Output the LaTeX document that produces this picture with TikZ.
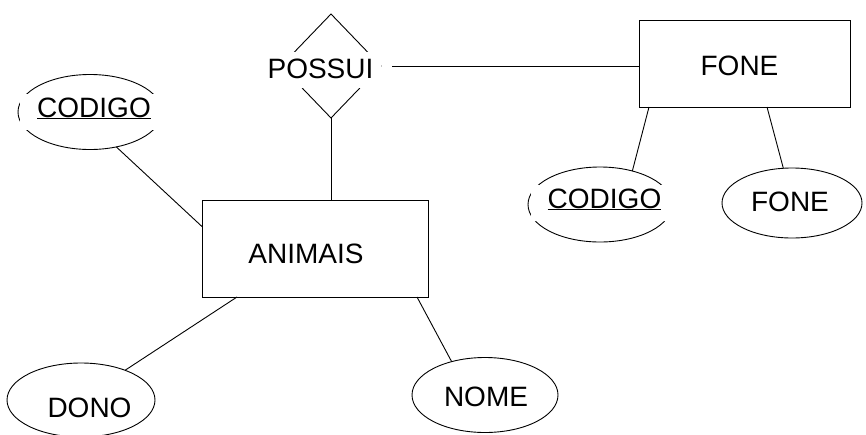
\documentclass[tikz,border=0pt]{standalone}
\usepackage{fontspec}
\setmainfont{Liberation Sans}
\usetikzlibrary{shapes.geometric}
\begin{document}
\begin{tikzpicture}[x=1pt,y=-1pt,
  every node/.style={outer sep=0pt},
  lbl/.style={anchor=base,inner ysep=0pt,inner xsep=2pt,text height=21pt,text depth=6pt,fill=white,font=\fontsize{28}{30}\selectfont},
  ullbl/.style={lbl,inner xsep=17pt,text height=23pt,text depth=13pt},
  rellbl/.style={lbl,inner xsep=8pt,text height=26pt,text depth=10pt},
  entbox/.style={draw,line width=1pt,rectangle},
  attr/.style={draw,line width=0.9pt,ellipse,inner sep=0pt},
  rel/.style={draw,line width=0.9pt,diamond,inner sep=0pt,minimum width=100pt,minimum height=104pt},
  conn/.style={line width=0.9pt}]
\useasboundingbox[fill=white] (0,0) rectangle (866,434);
% shapes
\node[rel] (possuid) at (331,66) {};
\node[entbox,minimum width=226pt,minimum height=97pt] (animais) at (315,248.5) {};
\node[entbox,minimum width=211pt,minimum height=87pt] (fone) at (744.5,63.5) {};
\node[attr,minimum width=144pt,minimum height=75pt] (codA) at (90,112) {};
\node[attr,minimum width=144pt,minimum height=75pt] (codB) at (600,204.5) {};
\node[attr,minimum width=140pt,minimum height=70pt] (foneat) at (792,203) {};
\node[attr,minimum width=148pt,minimum height=74pt] (dono) at (81,400) {};
\node[attr,minimum width=146pt,minimum height=75pt] (nome) at (485,395) {};
% connectors
\draw[conn] ([xshift=11pt]possuid.east) -- (possuid.east -| fone.west);
\draw[conn] (possuid.south) -- (possuid.south |- animais.north);
\draw[conn] (codA.-53) -- (animais.169);
\draw[conn] ([xshift=10pt]fone.south west) -- (codB.46);
\draw[conn] ([xshift=-83pt]fone.south east) -- (foneat.104);
\draw[conn] ([xshift=35pt]animais.south west) -- (dono.34);
\draw[conn] ([xshift=-11pt]animais.south east) -- (nome.135);
% labels
\node[rellbl] (possuit) at (320.5,78) {POSSUI};
\node[lbl] (animaist) at (306,263) {ANIMAIS};
\node[lbl] (fonet) at (739.5,75) {FONE};
\node[ullbl] (codAt) at (94,117) {\underline{CODIGO}};
\node[ullbl] (codBt) at (604.5,208) {\underline{CODIGO}};
\node[lbl] (foneatt) at (790,211) {FONE};
\node[lbl] (donot) at (89.5,417) {DONO};
\node[lbl] (nomet) at (486,406) {NOME};
\end{tikzpicture}
\end{document}
